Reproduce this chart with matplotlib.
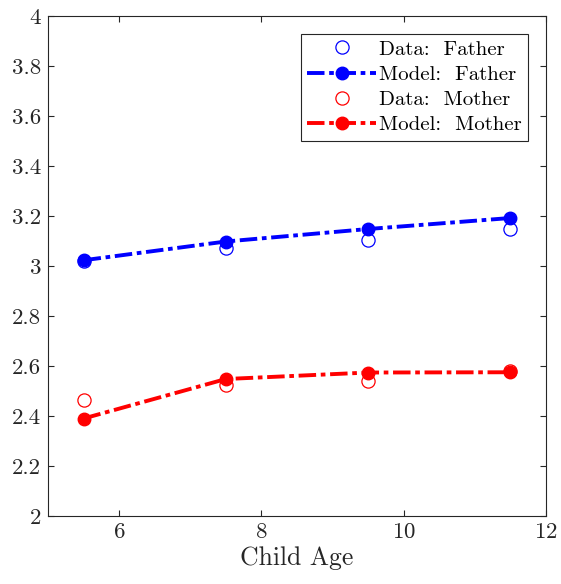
import matplotlib
matplotlib.use("Agg")
import matplotlib.pyplot as plt

plt.rcParams['font.family'] = 'cmr10'
plt.rcParams['mathtext.fontset'] = 'cm'
plt.rcParams['axes.formatter.use_mathtext'] = True

# child age groups and parental values
ages = [5.5, 7.5, 9.5, 11.5]
father_data = [3.02, 3.072, 3.105, 3.148]
father_model = [3.023, 3.098, 3.148, 3.192]
mother_data = [2.463, 2.524, 2.542, 2.58]
mother_model = [2.39, 2.548, 2.574, 2.575]

fig = plt.figure(figsize=(5.61, 5.84), dpi=100)
ax = fig.add_axes([0.0856, 0.1164, 0.8874, 0.8562])

dash = (4.5, 1.2, 1.2, 1.2)
ax.plot(ages, father_data, 'o', mfc='none', mec='blue', ms=9.5, mew=0.9, label='Data:  Father')
ax.plot(ages, father_model, '-.', color='blue', lw=2.8, dashes=dash, marker='o', ms=9,
        label='Model:  Father')
ax.plot(ages, mother_data, 'o', mfc='none', mec='red', ms=9.5, mew=0.9, label='Data:  Mother')
ax.plot(ages, mother_model, '-.', color='red', lw=2.8, dashes=dash, marker='o', ms=9,
        label='Model:  Mother')

ax.set_xlim(5, 12)
ax.set_ylim(2, 4)
ax.set_xticks([6, 8, 10, 12])
ax.set_yticks([2, 2.2, 2.4, 2.6, 2.8, 3, 3.2, 3.4, 3.6, 3.8, 4])
ax.set_yticklabels(['2', '2.2', '2.4', '2.6', '2.8', '3', '3.2', '3.4', '3.6', '3.8', '4'])
ax.tick_params(direction='in', top=True, right=True, length=4, width=0.8,
               labelsize=16.5, colors='#262626', pad=5)
for s in ax.spines.values():
    s.set_color('#262626')
    s.set_linewidth(0.8)
ax.set_xlabel('Child Age', fontsize=18.5, color='#262626', labelpad=3)

leg = ax.legend(loc='upper right', fontsize=15, handlelength=3.3, fancybox=False,
                edgecolor='#262626', framealpha=1, borderpad=0.3, labelspacing=0.32,
                handletextpad=0.15, borderaxespad=0.85)
leg.get_frame().set_linewidth(0.8)

fig.savefig('out.png', dpi=100)
